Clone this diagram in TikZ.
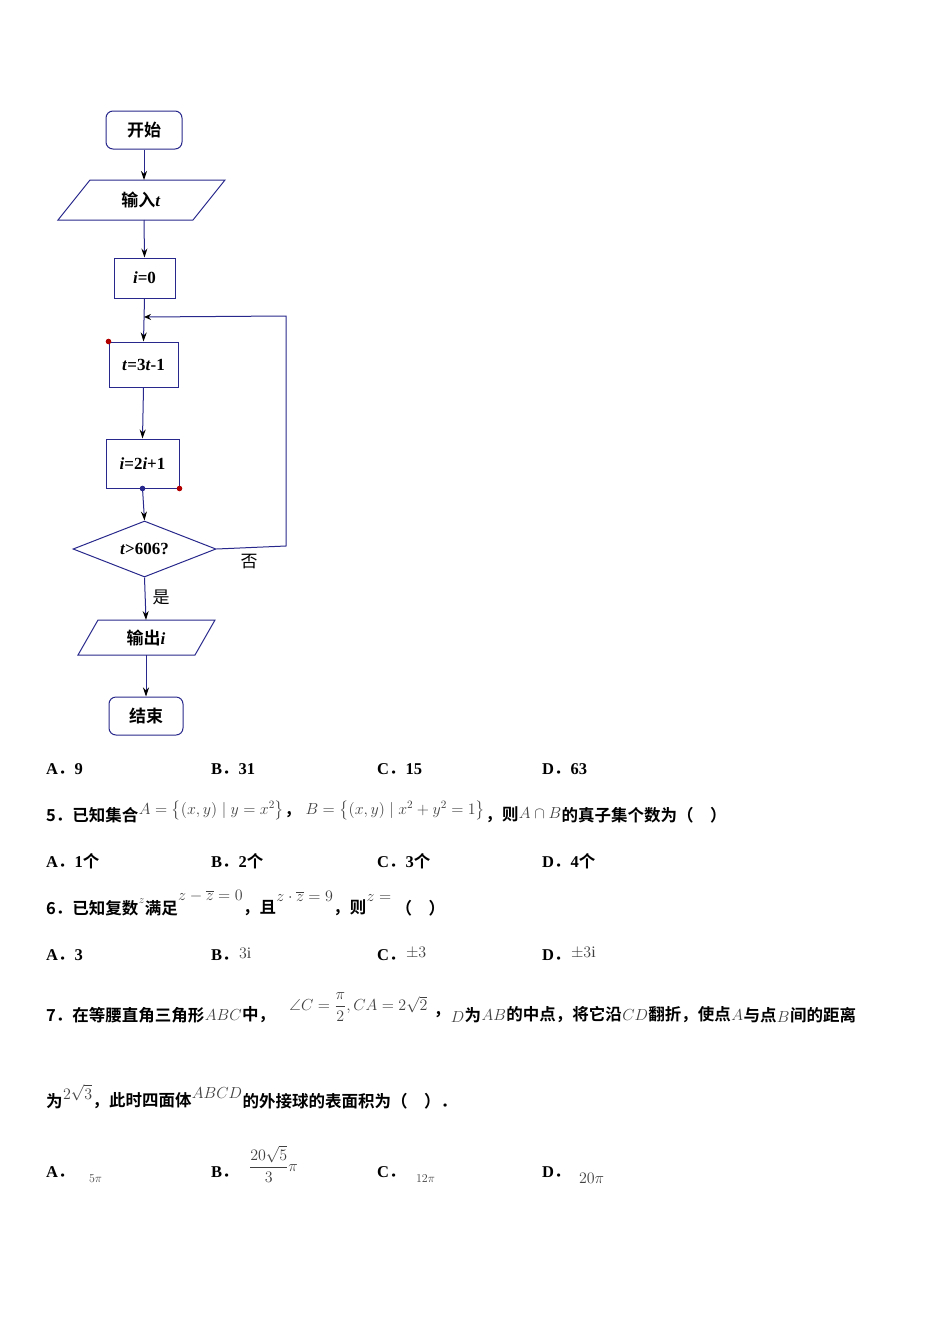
\RequirePackage{fix-cm}
\documentclass[tikz,border=0pt]{standalone}
\usepackage{amsmath,amssymb}
\usepackage{fontspec}
\setmainfont{Liberation Serif}
\newfontfamily\cjk{Noto Sans CJK SC}[BoldFont={Noto Sans CJK SC Bold}]
\newcommand{\lt}[1]{{\rmfamily\bfseries #1}}
\usetikzlibrary{arrows.meta,shapes.geometric}
\definecolor{fc}{RGB}{40,40,140}
\begin{document}
\begin{tikzpicture}[x=1pt,y=-1pt,
  fbox/.style={draw=fc,line width=1pt,font=\bfseries\cjk\fontsize{17}{17}\selectfont,inner sep=0pt},
  arr/.style={draw=fc,line width=1pt,-{Stealth[length=9pt,width=6pt,black]}},
  txt/.style={anchor=west,font=\cjk\bfseries\fontsize{16.5}{16.5}\selectfont,inner sep=0pt},
  mth/.style={anchor=west,inner sep=0pt,text=black!75,font=\fontsize{16}{16}\selectfont}]
\useasboundingbox (0,0) rectangle (950,1344);
\node[fbox,rounded corners=7pt,minimum width=76pt,minimum height=38pt] (start) at (144,130) {开始};
\draw[fc,line width=1pt] (90,180)--(225,180)--(193,220)--(58,220)--cycle;
\node[fbox,draw=none] (in) at (141,200) {输入\lt{\textit{t}}};
\node[fbox,minimum width=61pt,minimum height=40pt] (i0) at (144.5,278) {\lt{\textit{i}=0}};
\node[fbox,minimum width=69pt,minimum height=45pt] (t3) at (143.5,364.5) {\lt{\textit{t}=3\textit{t}-1}};
\node[fbox,minimum width=73pt,minimum height=49pt] (i2) at (142.5,463.5) {\lt{\textit{i}=2\textit{i}+1}};
\node[fbox,diamond,aspect=2.55,minimum width=143pt,minimum height=56pt] (dec) at (144.5,549) {\lt{\textit{t}>606?}};
\draw[fc,line width=1pt] (98,620)--(215,620)--(195,655)--(78,655)--cycle;
\node[fbox,draw=none] (out) at (146,638) {输出\lt{\textit{i}}};
\node[fbox,rounded corners=7pt,minimum width=74pt,minimum height=38pt] (end) at (146,716) {结束};
\coordinate (m) at (144,317);
\draw[arr] (start.south) -- (144,180);
\draw[arr] (144,220) -- (i0.north);
\draw[arr] (i0.south) -- (t3.north);
\draw[arr] (t3.south) -- (i2.north);
\draw[arr] (i2.south) -- (dec.north);
\draw[arr] (dec.south) -- (146,620);
\draw[arr] (146,655) -- (end.north);
\draw[fc,line width=1pt,-{Stealth[open,length=7pt,width=6pt,black]}] (dec.east) -- (286,546) -- (286,316) -- (m);
\fill[red!70!black] (t3.north west) circle (2.8pt) (i2.south east) circle (2.8pt);
\fill[fc] (i2.south) circle (2.8pt);
\node[font=\cjk\fontsize{17}{17}\selectfont] (no) at (249,562) {否};
\node[font=\cjk\fontsize{17}{17}\selectfont] (yes) at (161,597) {是};
% answers row 1
\node[txt] (a1) at (46,769) {\lt{A}．\lt{9}};
\node[txt] (b1) at (211,769) {\lt{B}．\lt{31}};
\node[txt] (c1) at (377,769) {\lt{C}．\lt{15}};
\node[txt] (d1) at (542,769) {\lt{D}．\lt{63}};
% Q5
\node[txt] (q5) at (46,815) {5．已知集合};
\node[mth] (q5a) at ([yshift=5pt]q5.east) {$A=\left\{(x,y)\mid y=x^2\right\}$};
\node[txt] (q5b) at ([yshift=-5pt]q5a.east) {，};
\node[mth] (q5c) at ([xshift=4pt,yshift=5pt]q5b.east) {$B=\left\{(x,y)\mid x^2+y^2=1\right\}$};
\node[txt] (q5d) at ([yshift=-5pt]q5c.east) {，则};
\node[mth] (q5e) at ([yshift=2pt]q5d.east) {$A\cap B$};
\node[txt] (q5f) at ([yshift=-2pt]q5e.east) {的真子集个数为（\quad）};
\node[txt] (a2) at (46,861) {\lt{A}．\lt{1}个};
\node[txt] (b2) at (211,861) {\lt{B}．\lt{2}个};
\node[txt] (c2) at (377,861) {\lt{C}．\lt{3}个};
\node[txt] (d2) at (542,861) {\lt{D}．\lt{4}个};
% Q6
\node[txt] (q6) at (46,908) {6．已知复数};
\node[mth,font=\fontsize{11}{11}\selectfont] (q6a) at ([yshift=7pt]q6.east) {$z$};
\node[txt] (q6b) at ([yshift=-7pt]q6a.east) {满足};
\node[mth] (q6c) at ([yshift=12pt]q6b.east) {$z-\overline{z}=0$};
\node[txt] (q6d) at ([yshift=-12pt]q6c.east) {，且};
\node[mth] (q6e) at ([yshift=12pt]q6d.east) {$z\cdot\overline{z}=9$};
\node[txt] (q6f) at ([yshift=-12pt]q6e.east) {，则};
\node[mth] (q6g) at ([yshift=10pt]q6f.east) {$z=$};
\node[txt] (q6h) at ([yshift=-10pt,xshift=4pt]q6g.east) {（\quad）};
\node[txt] (a3) at (46,955) {\lt{A}．\lt{3}};
\node[txt] (b3) at (211,955) {\lt{B}．};
\node[mth] (b3m) at ([yshift=2pt]b3.east) {$3\mathrm{i}$};
\node[txt] (c3) at (377,955) {\lt{C}．};
\node[mth] (c3m) at ([yshift=2pt]c3.east) {$\pm3$};
\node[txt] (d3) at (542,955) {\lt{D}．};
\node[mth] (d3m) at ([yshift=2pt]d3.east) {$\pm3\mathrm{i}$};
% Q7
\node[txt] (q7) at (46,1015) {7．在等腰直角三角形};
\node[mth] (q7a) at (q7.east) {$ABC$};
\node[txt] (q7b) at (q7a.east) {中，};
\node[mth] (q7c) at ([xshift=14pt,yshift=8pt]q7b.east) {$\angle C=\dfrac{\pi}{2},CA=2\sqrt{2}$};
\node[txt] (q7d) at ([xshift=6pt,yshift=-8pt]q7c.east) {，};
\node[mth] (q7e) at ([yshift=-2pt]q7d.east) {$D$};
\node[txt] (q7f) at ([yshift=2pt]q7e.east) {为};
\node[mth] (q7g) at (q7f.east) {$AB$};
\node[txt] (q7h) at (q7g.east) {的中点，将它沿};
\node[mth] (q7i) at (q7h.east) {$CD$};
\node[txt] (q7j) at (q7i.east) {翻折，使点};
\node[mth] (q7k) at (q7j.east) {$A$};
\node[txt] (q7l) at (q7k.east) {与点};
\node[mth] (q7m) at ([yshift=-2pt]q7l.east) {$B$};
\node[txt] (q7n) at ([yshift=2pt]q7m.east) {间的距离};
\node[txt] (q7o) at (46,1101) {为};
\node[mth] (q7p) at ([yshift=8pt]q7o.east) {$2\sqrt{3}$};
\node[txt] (q7q) at ([yshift=-8pt]q7p.east) {，此时四面体};
\node[mth] (q7r) at ([yshift=8pt]q7q.east) {$ABCD$};
\node[txt] (q7s) at ([yshift=-8pt]q7r.east) {的外接球的表面积为（\quad）．};
\node[txt] (a4) at (46,1172) {\lt{A}．};
\node[mth,font=\fontsize{12}{12}\selectfont] (a4m) at ([xshift=14pt,yshift=-7pt]a4.east) {$5\pi$};
\node[txt] (b4) at (211,1172) {\lt{B}．};
\node[mth] (b4m) at ([xshift=10pt,yshift=8pt]b4.east) {$\dfrac{20\sqrt{5}}{3}\pi$};
\node[txt] (c4) at (377,1172) {\lt{C}．};
\node[mth,font=\fontsize{12}{12}\selectfont] (c4m) at ([xshift=10pt,yshift=-7pt]c4.east) {$12\pi$};
\node[txt] (d4) at (542,1172) {\lt{D}．};
\node[mth] (d4m) at ([xshift=8pt,yshift=-6pt]d4.east) {$20\pi$};
\end{tikzpicture}
\end{document}
